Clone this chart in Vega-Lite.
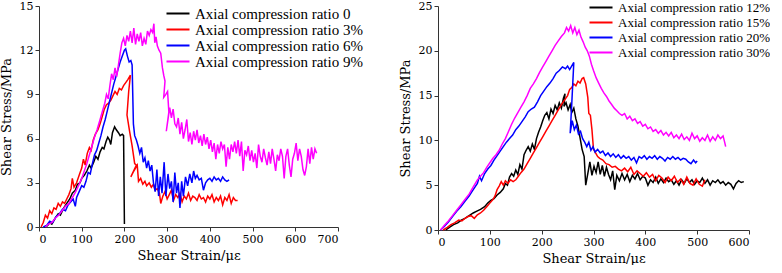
{
"$schema": "https://vega.github.io/schema/vega-lite/v6.json",
"padding": 0,
"background": "white",
"bounds": "flush",
"spacing": 100,
"config": {"view": {"stroke": null}},
"datasets": {
"left": [
{"s":"0","x":12,"y":0},{"s":"0","x":20,"y":0.1},{"s":"0","x":25,"y":0.3},{"s":"0","x":30,"y":0.2},{"s":"0","x":38,"y":0.6},{"s":"0","x":45,"y":0.9},{"s":"0","x":50,"y":0.8},{"s":"0","x":58,"y":1.3},{"s":"0","x":65,"y":1.6},{"s":"0","x":72,"y":1.9},{"s":"0","x":78,"y":2.3},{"s":"0","x":85,"y":2.5},{"s":"0","x":90,"y":2.9},{"s":"0","x":96,"y":3.0},{"s":"0","x":100,"y":3.3},{"s":"0","x":106,"y":3.5},{"s":"0","x":112,"y":3.8},{"s":"0","x":118,"y":4.2},{"s":"0","x":122,"y":4.0},{"s":"0","x":128,"y":4.4},{"s":"0","x":133,"y":4.8},{"s":"0","x":138,"y":4.6},{"s":"0","x":143,"y":5.1},{"s":"0","x":148,"y":5.4},{"s":"0","x":152,"y":5.3},{"s":"0","x":157,"y":5.8},{"s":"0","x":161,"y":6.1},{"s":"0","x":165,"y":5.9},{"s":"0","x":168,"y":5.6},{"s":"0","x":172,"y":6.4},{"s":"0","x":177,"y":6.8},{"s":"0","x":181,"y":6.6},{"s":"0","x":186,"y":6.4},{"s":"0","x":190,"y":6.2},{"s":"0","x":195,"y":6.3},{"s":"0","x":198,"y":6.2},{"s":"0","x":200,"y":0.2},
{"s":"3%","x":5,"y":0},{"s":"3%","x":10,"y":0.3},{"s":"3%","x":15,"y":0.8},{"s":"3%","x":20,"y":0.6},{"s":"3%","x":25,"y":1.1},{"s":"3%","x":30,"y":0.9},{"s":"3%","x":35,"y":1.3},{"s":"3%","x":40,"y":1.2},{"s":"3%","x":45,"y":1.6},{"s":"3%","x":50,"y":1.4},{"s":"3%","x":55,"y":1.7},{"s":"3%","x":60,"y":1.6},{"s":"3%","x":65,"y":1.9},{"s":"3%","x":70,"y":2.2},{"s":"3%","x":75,"y":2.6},{"s":"3%","x":78,"y":3.3},{"s":"3%","x":82,"y":2.7},{"s":"3%","x":88,"y":3.0},{"s":"3%","x":95,"y":3.6},{"s":"3%","x":100,"y":4.0},{"s":"3%","x":104,"y":4.6},{"s":"3%","x":108,"y":4.2},{"s":"3%","x":113,"y":5.0},{"s":"3%","x":118,"y":5.4},{"s":"3%","x":122,"y":5.2},{"s":"3%","x":127,"y":5.9},{"s":"3%","x":132,"y":6.3},{"s":"3%","x":138,"y":6.6},{"s":"3%","x":143,"y":7.0},{"s":"3%","x":148,"y":7.5},{"s":"3%","x":153,"y":8.0},{"s":"3%","x":158,"y":8.3},{"s":"3%","x":163,"y":8.4},{"s":"3%","x":168,"y":8.6},{"s":"3%","x":173,"y":8.9},{"s":"3%","x":178,"y":9.2},{"s":"3%","x":183,"y":9.0},{"s":"3%","x":188,"y":9.4},{"s":"3%","x":193,"y":9.3},{"s":"3%","x":198,"y":9.6},{"s":"3%","x":203,"y":9.8},{"s":"3%","x":208,"y":10.0},{"s":"3%","x":212,"y":10.2},{"s":"3%","x":214,"y":10.3},{"s":"3%","x":210,"y":9.2},{"s":"3%","x":206,"y":7.6},{"s":"3%","x":212,"y":6.5},{"s":"3%","x":218,"y":5.5},{"s":"3%","x":224,"y":4.3},{"s":"3%","x":228,"y":4.2},{"s":"3%","x":215,"y":3.4},{"s":"3%","x":222,"y":3.8},{"s":"3%","x":230,"y":4.2},{"s":"3%","x":233,"y":3.1},{"s":"3%","x":238,"y":3.3},{"s":"3%","x":243,"y":2.9},{"s":"3%","x":248,"y":3.1},{"s":"3%","x":252,"y":2.8},{"s":"3%","x":258,"y":3.0},{"s":"3%","x":263,"y":2.7},{"s":"3%","x":268,"y":2.9},{"s":"3%","x":272,"y":2.5},{"s":"3%","x":277,"y":2.6},{"s":"3%","x":282,"y":2.3},{"s":"3%","x":285,"y":1.6},{"s":"3%","x":290,"y":2.1},{"s":"3%","x":295,"y":2.4},{"s":"3%","x":300,"y":1.9},{"s":"3%","x":305,"y":2.2},{"s":"3%","x":310,"y":2.5},{"s":"3%","x":315,"y":1.8},{"s":"3%","x":320,"y":2.2},{"s":"3%","x":325,"y":2.0},{"s":"3%","x":330,"y":2.3},{"s":"3%","x":335,"y":1.7},{"s":"3%","x":340,"y":2.1},{"s":"3%","x":345,"y":1.9},{"s":"3%","x":350,"y":2.3},{"s":"3%","x":355,"y":1.8},{"s":"3%","x":360,"y":2.1},{"s":"3%","x":365,"y":2.0},{"s":"3%","x":370,"y":1.8},{"s":"3%","x":375,"y":2.2},{"s":"3%","x":380,"y":1.9},{"s":"3%","x":385,"y":2.0},{"s":"3%","x":390,"y":1.7},{"s":"3%","x":395,"y":2.1},{"s":"3%","x":400,"y":1.9},{"s":"3%","x":405,"y":2.2},{"s":"3%","x":410,"y":1.7},{"s":"3%","x":415,"y":2.0},{"s":"3%","x":420,"y":1.8},{"s":"3%","x":425,"y":2.1},{"s":"3%","x":430,"y":1.5},{"s":"3%","x":435,"y":2.0},{"s":"3%","x":440,"y":1.8},{"s":"3%","x":445,"y":2.2},{"s":"3%","x":450,"y":1.6},{"s":"3%","x":455,"y":2.0},{"s":"3%","x":460,"y":1.8},{"s":"3%","x":465,"y":1.8},
{"s":"6%","x":10,"y":0},{"s":"6%","x":18,"y":0.1},{"s":"6%","x":25,"y":0.4},{"s":"6%","x":32,"y":0.3},{"s":"6%","x":40,"y":0.7},{"s":"6%","x":48,"y":0.9},{"s":"6%","x":55,"y":1.2},{"s":"6%","x":62,"y":1.1},{"s":"6%","x":68,"y":1.5},{"s":"6%","x":74,"y":1.7},{"s":"6%","x":80,"y":1.9},{"s":"6%","x":85,"y":1.4},{"s":"6%","x":88,"y":2.0},{"s":"6%","x":94,"y":2.4},{"s":"6%","x":100,"y":2.8},{"s":"6%","x":105,"y":2.7},{"s":"6%","x":110,"y":3.1},{"s":"6%","x":115,"y":3.7},{"s":"6%","x":120,"y":3.6},{"s":"6%","x":125,"y":4.3},{"s":"6%","x":130,"y":4.9},{"s":"6%","x":135,"y":5.2},{"s":"6%","x":140,"y":5.7},{"s":"6%","x":145,"y":6.2},{"s":"6%","x":150,"y":6.8},{"s":"6%","x":155,"y":7.3},{"s":"6%","x":160,"y":7.9},{"s":"6%","x":165,"y":8.5},{"s":"6%","x":170,"y":9.1},{"s":"6%","x":175,"y":9.7},{"s":"6%","x":180,"y":10.2},{"s":"6%","x":185,"y":10.7},{"s":"6%","x":190,"y":11.2},{"s":"6%","x":195,"y":11.6},{"s":"6%","x":200,"y":12.0},{"s":"6%","x":203,"y":12.1},{"s":"6%","x":207,"y":11.6},{"s":"6%","x":211,"y":11.2},{"s":"6%","x":215,"y":11.3},{"s":"6%","x":218,"y":11.0},{"s":"6%","x":221,"y":7.0},{"s":"6%","x":224,"y":6.2},{"s":"6%","x":228,"y":5.9},{"s":"6%","x":232,"y":5.5},{"s":"6%","x":236,"y":5.0},{"s":"6%","x":240,"y":5.4},{"s":"6%","x":244,"y":4.4},{"s":"6%","x":248,"y":4.7},{"s":"6%","x":252,"y":4.0},{"s":"6%","x":256,"y":4.5},{"s":"6%","x":260,"y":3.8},{"s":"6%","x":264,"y":4.2},{"s":"6%","x":268,"y":3.0},{"s":"6%","x":272,"y":2.4},{"s":"6%","x":276,"y":3.9},{"s":"6%","x":280,"y":2.1},{"s":"6%","x":284,"y":3.4},{"s":"6%","x":288,"y":2.3},{"s":"6%","x":293,"y":4.4},{"s":"6%","x":297,"y":2.1},{"s":"6%","x":302,"y":3.6},{"s":"6%","x":306,"y":2.6},{"s":"6%","x":310,"y":3.1},{"s":"6%","x":314,"y":1.7},{"s":"6%","x":318,"y":3.7},{"s":"6%","x":322,"y":2.3},{"s":"6%","x":326,"y":3.0},{"s":"6%","x":330,"y":1.3},{"s":"6%","x":334,"y":3.1},{"s":"6%","x":338,"y":2.1},{"s":"6%","x":343,"y":3.4},{"s":"6%","x":348,"y":2.8},{"s":"6%","x":353,"y":3.6},{"s":"6%","x":358,"y":3.0},{"s":"6%","x":362,"y":3.8},{"s":"6%","x":366,"y":3.3},{"s":"6%","x":370,"y":3.5},{"s":"6%","x":375,"y":3.2},{"s":"6%","x":380,"y":3.3},{"s":"6%","x":385,"y":2.5},{"s":"6%","x":390,"y":3.0},{"s":"6%","x":395,"y":3.2},{"s":"6%","x":400,"y":3.3},{"s":"6%","x":405,"y":3.1},{"s":"6%","x":410,"y":3.4},{"s":"6%","x":415,"y":3.2},{"s":"6%","x":420,"y":3.3},{"s":"6%","x":425,"y":3.1},{"s":"6%","x":430,"y":3.4},{"s":"6%","x":435,"y":3.2},{"s":"6%","x":440,"y":3.1},{"s":"6%","x":445,"y":3.2},
{"s":"9%","x":15,"y":0},{"s":"9%","x":22,"y":0.2},{"s":"9%","x":30,"y":0.3},{"s":"9%","x":38,"y":0.6},{"s":"9%","x":46,"y":0.8},{"s":"9%","x":54,"y":1.1},{"s":"9%","x":62,"y":1.4},{"s":"9%","x":70,"y":1.6},{"s":"9%","x":78,"y":2.0},{"s":"9%","x":86,"y":2.4},{"s":"9%","x":94,"y":2.9},{"s":"9%","x":100,"y":3.3},{"s":"9%","x":106,"y":3.8},{"s":"9%","x":112,"y":4.3},{"s":"9%","x":118,"y":4.9},{"s":"9%","x":124,"y":5.5},{"s":"9%","x":130,"y":6.1},{"s":"9%","x":136,"y":6.6},{"s":"9%","x":142,"y":7.2},{"s":"9%","x":148,"y":7.8},{"s":"9%","x":154,"y":8.4},{"s":"9%","x":158,"y":9.0},{"s":"9%","x":162,"y":8.7},{"s":"9%","x":166,"y":9.6},{"s":"9%","x":170,"y":10.4},{"s":"9%","x":174,"y":10.0},{"s":"9%","x":178,"y":10.8},{"s":"9%","x":182,"y":10.2},{"s":"9%","x":186,"y":11.0},{"s":"9%","x":190,"y":11.8},{"s":"9%","x":194,"y":12.5},{"s":"9%","x":198,"y":12.8},{"s":"9%","x":202,"y":12.3},{"s":"9%","x":206,"y":13.0},{"s":"9%","x":210,"y":12.6},{"s":"9%","x":214,"y":13.3},{"s":"9%","x":218,"y":12.5},{"s":"9%","x":222,"y":13.5},{"s":"9%","x":226,"y":12.4},{"s":"9%","x":230,"y":13.1},{"s":"9%","x":234,"y":12.6},{"s":"9%","x":238,"y":13.2},{"s":"9%","x":242,"y":12.3},{"s":"9%","x":246,"y":12.8},{"s":"9%","x":250,"y":12.4},{"s":"9%","x":254,"y":13.3},{"s":"9%","x":258,"y":13.0},{"s":"9%","x":262,"y":13.4},{"s":"9%","x":266,"y":13.2},{"s":"9%","x":269,"y":13.8},{"s":"9%","x":271,"y":12.5},{"s":"9%","x":274,"y":12.9},{"s":"9%","x":277,"y":12.3},{"s":"9%","x":281,"y":12.0},{"s":"9%","x":285,"y":11.8},{"s":"9%","x":289,"y":10.8},{"s":"9%","x":292,"y":10.3},{"s":"9%","x":295,"y":9.9},{"s":"9%","x":292,"y":8.8},{"s":"9%","x":297,"y":9.0},{"s":"9%","x":301,"y":9.2},{"s":"9%","x":304,"y":7.8},{"s":"9%","x":298,"y":6.5},{"s":"9%","x":306,"y":8.1},{"s":"9%","x":310,"y":7.4},{"s":"9%","x":314,"y":8.0},{"s":"9%","x":318,"y":7.0},{"s":"9%","x":322,"y":6.8},{"s":"9%","x":326,"y":7.4},{"s":"9%","x":330,"y":6.3},{"s":"9%","x":334,"y":7.1},{"s":"9%","x":338,"y":6.0},{"s":"9%","x":342,"y":6.6},{"s":"9%","x":346,"y":7.3},{"s":"9%","x":350,"y":5.8},{"s":"9%","x":354,"y":6.4},{"s":"9%","x":358,"y":5.6},{"s":"9%","x":362,"y":6.5},{"s":"9%","x":366,"y":5.9},{"s":"9%","x":370,"y":6.6},{"s":"9%","x":374,"y":5.7},{"s":"9%","x":378,"y":6.2},{"s":"9%","x":382,"y":5.5},{"s":"9%","x":386,"y":6.3},{"s":"9%","x":390,"y":5.6},{"s":"9%","x":394,"y":6.1},{"s":"9%","x":398,"y":5.3},{"s":"9%","x":402,"y":5.9},{"s":"9%","x":406,"y":5.1},{"s":"9%","x":410,"y":5.7},{"s":"9%","x":414,"y":4.6},{"s":"9%","x":418,"y":5.6},{"s":"9%","x":422,"y":5.0},{"s":"9%","x":426,"y":5.8},{"s":"9%","x":430,"y":5.3},{"s":"9%","x":434,"y":5.6},{"s":"9%","x":438,"y":4.1},{"s":"9%","x":442,"y":5.4},{"s":"9%","x":446,"y":4.6},{"s":"9%","x":450,"y":5.6},{"s":"9%","x":454,"y":5.1},{"s":"9%","x":458,"y":5.8},{"s":"9%","x":462,"y":5.0},{"s":"9%","x":466,"y":5.9},{"s":"9%","x":470,"y":4.8},{"s":"9%","x":474,"y":5.8},{"s":"9%","x":478,"y":3.8},{"s":"9%","x":482,"y":5.2},{"s":"9%","x":486,"y":4.9},{"s":"9%","x":490,"y":5.5},{"s":"9%","x":494,"y":4.5},{"s":"9%","x":498,"y":5.2},{"s":"9%","x":502,"y":4.4},{"s":"9%","x":506,"y":5.0},{"s":"9%","x":510,"y":4.0},{"s":"9%","x":514,"y":5.6},{"s":"9%","x":518,"y":4.8},{"s":"9%","x":522,"y":4.4},{"s":"9%","x":526,"y":5.3},{"s":"9%","x":530,"y":4.7},{"s":"9%","x":534,"y":4.2},{"s":"9%","x":538,"y":5.1},{"s":"9%","x":542,"y":4.3},{"s":"9%","x":546,"y":5.3},{"s":"9%","x":550,"y":4.6},{"s":"9%","x":554,"y":3.8},{"s":"9%","x":558,"y":4.9},{"s":"9%","x":562,"y":4.5},{"s":"9%","x":566,"y":5.3},{"s":"9%","x":570,"y":4.8},{"s":"9%","x":574,"y":3.3},{"s":"9%","x":578,"y":4.8},{"s":"9%","x":582,"y":5.3},{"s":"9%","x":586,"y":4.2},{"s":"9%","x":590,"y":3.4},{"s":"9%","x":594,"y":4.6},{"s":"9%","x":598,"y":5.0},{"s":"9%","x":602,"y":5.7},{"s":"9%","x":606,"y":4.5},{"s":"9%","x":610,"y":5.3},{"s":"9%","x":614,"y":4.8},{"s":"9%","x":618,"y":3.9},{"s":"9%","x":622,"y":3.5},{"s":"9%","x":626,"y":4.1},{"s":"9%","x":630,"y":5.3},{"s":"9%","x":634,"y":4.3},{"s":"9%","x":638,"y":5.4},{"s":"9%","x":642,"y":4.6},{"s":"9%","x":646,"y":5.3},{"s":"9%","x":650,"y":5.0}
],
"right": [
{"s":"12%","x":15,"y":0},{"s":"12%","x":22,"y":0.3},{"s":"12%","x":30,"y":0.6},{"s":"12%","x":38,"y":0.8},{"s":"12%","x":45,"y":1.1},{"s":"12%","x":52,"y":1.3},{"s":"12%","x":60,"y":1.6},{"s":"12%","x":68,"y":1.9},{"s":"12%","x":75,"y":2.1},{"s":"12%","x":82,"y":2.3},{"s":"12%","x":90,"y":2.6},{"s":"12%","x":96,"y":3.0},{"s":"12%","x":102,"y":3.3},{"s":"12%","x":108,"y":3.5},{"s":"12%","x":114,"y":3.9},{"s":"12%","x":120,"y":4.2},{"s":"12%","x":126,"y":4.6},{"s":"12%","x":130,"y":5.2},{"s":"12%","x":134,"y":5.0},{"s":"12%","x":138,"y":5.9},{"s":"12%","x":142,"y":6.3},{"s":"12%","x":146,"y":6.0},{"s":"12%","x":150,"y":6.7},{"s":"12%","x":154,"y":6.2},{"s":"12%","x":158,"y":7.3},{"s":"12%","x":162,"y":6.8},{"s":"12%","x":166,"y":8.4},{"s":"12%","x":170,"y":8.9},{"s":"12%","x":174,"y":9.3},{"s":"12%","x":178,"y":8.8},{"s":"12%","x":182,"y":9.6},{"s":"12%","x":186,"y":9.0},{"s":"12%","x":190,"y":10.2},{"s":"12%","x":194,"y":10.9},{"s":"12%","x":198,"y":11.5},{"s":"12%","x":202,"y":12.2},{"s":"12%","x":206,"y":12.8},{"s":"12%","x":210,"y":13.1},{"s":"12%","x":214,"y":12.4},{"s":"12%","x":218,"y":13.5},{"s":"12%","x":222,"y":13.0},{"s":"12%","x":226,"y":13.9},{"s":"12%","x":230,"y":13.4},{"s":"12%","x":234,"y":14.2},{"s":"12%","x":238,"y":13.6},{"s":"12%","x":242,"y":14.7},{"s":"12%","x":245,"y":15.2},{"s":"12%","x":243,"y":13.8},{"s":"12%","x":247,"y":14.2},{"s":"12%","x":251,"y":13.4},{"s":"12%","x":255,"y":14.0},{"s":"12%","x":258,"y":13.1},{"s":"12%","x":262,"y":13.6},{"s":"12%","x":266,"y":12.4},{"s":"12%","x":270,"y":11.6},{"s":"12%","x":274,"y":10.3},{"s":"12%","x":278,"y":9.0},{"s":"12%","x":282,"y":8.2},{"s":"12%","x":285,"y":5.0},{"s":"12%","x":289,"y":6.3},{"s":"12%","x":293,"y":7.6},{"s":"12%","x":297,"y":6.1},{"s":"12%","x":301,"y":7.1},{"s":"12%","x":305,"y":6.4},{"s":"12%","x":309,"y":7.6},{"s":"12%","x":313,"y":6.2},{"s":"12%","x":317,"y":7.2},{"s":"12%","x":321,"y":6.0},{"s":"12%","x":325,"y":7.0},{"s":"12%","x":329,"y":6.2},{"s":"12%","x":333,"y":5.6},{"s":"12%","x":337,"y":6.6},{"s":"12%","x":341,"y":4.5},{"s":"12%","x":345,"y":6.1},{"s":"12%","x":350,"y":5.5},{"s":"12%","x":355,"y":6.3},{"s":"12%","x":360,"y":5.6},{"s":"12%","x":365,"y":6.2},{"s":"12%","x":370,"y":5.4},{"s":"12%","x":375,"y":6.1},{"s":"12%","x":380,"y":5.7},{"s":"12%","x":385,"y":6.3},{"s":"12%","x":390,"y":5.6},{"s":"12%","x":395,"y":6.0},{"s":"12%","x":400,"y":5.8},{"s":"12%","x":405,"y":5.0},{"s":"12%","x":410,"y":5.6},{"s":"12%","x":415,"y":5.3},{"s":"12%","x":420,"y":5.9},{"s":"12%","x":425,"y":5.2},{"s":"12%","x":430,"y":5.7},{"s":"12%","x":435,"y":5.3},{"s":"12%","x":440,"y":5.8},{"s":"12%","x":445,"y":5.4},{"s":"12%","x":450,"y":5.6},{"s":"12%","x":455,"y":5.1},{"s":"12%","x":460,"y":5.5},{"s":"12%","x":465,"y":5.0},{"s":"12%","x":470,"y":5.6},{"s":"12%","x":475,"y":5.2},{"s":"12%","x":480,"y":5.7},{"s":"12%","x":485,"y":5.3},{"s":"12%","x":490,"y":5.6},{"s":"12%","x":495,"y":5.1},{"s":"12%","x":500,"y":5.5},{"s":"12%","x":505,"y":5.3},{"s":"12%","x":510,"y":5.8},{"s":"12%","x":515,"y":5.2},{"s":"12%","x":520,"y":5.6},{"s":"12%","x":525,"y":5.0},{"s":"12%","x":530,"y":5.5},{"s":"12%","x":535,"y":5.3},{"s":"12%","x":540,"y":5.6},{"s":"12%","x":545,"y":5.2},{"s":"12%","x":550,"y":5.4},{"s":"12%","x":555,"y":5.0},{"s":"12%","x":560,"y":5.3},{"s":"12%","x":565,"y":5.1},{"s":"12%","x":570,"y":4.6},{"s":"12%","x":575,"y":5.2},{"s":"12%","x":580,"y":5.5},{"s":"12%","x":585,"y":5.3},{"s":"12%","x":590,"y":5.4},
{"s":"15%","x":10,"y":0},{"s":"15%","x":18,"y":0.3},{"s":"15%","x":25,"y":0.6},{"s":"15%","x":32,"y":0.8},{"s":"15%","x":40,"y":1.1},{"s":"15%","x":46,"y":1.0},{"s":"15%","x":52,"y":1.3},{"s":"15%","x":58,"y":1.5},{"s":"15%","x":64,"y":1.6},{"s":"15%","x":70,"y":1.3},{"s":"15%","x":76,"y":1.7},{"s":"15%","x":82,"y":1.9},{"s":"15%","x":88,"y":2.2},{"s":"15%","x":94,"y":2.6},{"s":"15%","x":100,"y":3.0},{"s":"15%","x":106,"y":3.4},{"s":"15%","x":110,"y":3.8},{"s":"15%","x":114,"y":4.5},{"s":"15%","x":118,"y":4.9},{"s":"15%","x":122,"y":5.4},{"s":"15%","x":126,"y":5.0},{"s":"15%","x":130,"y":5.5},{"s":"15%","x":135,"y":5.2},{"s":"15%","x":140,"y":5.6},{"s":"15%","x":145,"y":5.4},{"s":"15%","x":150,"y":5.6},{"s":"15%","x":155,"y":6.0},{"s":"15%","x":160,"y":6.4},{"s":"15%","x":166,"y":6.8},{"s":"15%","x":172,"y":7.4},{"s":"15%","x":178,"y":8.0},{"s":"15%","x":184,"y":8.6},{"s":"15%","x":190,"y":9.2},{"s":"15%","x":196,"y":9.8},{"s":"15%","x":202,"y":10.4},{"s":"15%","x":208,"y":11.0},{"s":"15%","x":214,"y":11.6},{"s":"15%","x":220,"y":12.2},{"s":"15%","x":226,"y":12.8},{"s":"15%","x":232,"y":13.4},{"s":"15%","x":238,"y":14.0},{"s":"15%","x":244,"y":14.5},{"s":"15%","x":250,"y":15.0},{"s":"15%","x":254,"y":15.7},{"s":"15%","x":258,"y":15.9},{"s":"15%","x":262,"y":16.3},{"s":"15%","x":266,"y":16.1},{"s":"15%","x":270,"y":16.6},{"s":"15%","x":274,"y":16.4},{"s":"15%","x":278,"y":16.9},{"s":"15%","x":281,"y":17.0},{"s":"15%","x":285,"y":16.3},{"s":"15%","x":289,"y":14.8},{"s":"15%","x":291,"y":13.0},{"s":"15%","x":294,"y":12.8},{"s":"15%","x":297,"y":11.2},{"s":"15%","x":300,"y":9.0},{"s":"15%","x":304,"y":8.6},{"s":"15%","x":308,"y":8.2},{"s":"15%","x":312,"y":8.0},{"s":"15%","x":318,"y":7.8},{"s":"15%","x":324,"y":7.4},{"s":"15%","x":330,"y":7.3},{"s":"15%","x":336,"y":7.0},{"s":"15%","x":342,"y":7.1},{"s":"15%","x":348,"y":6.8},{"s":"15%","x":354,"y":6.6},{"s":"15%","x":360,"y":6.9},{"s":"15%","x":366,"y":6.5},{"s":"15%","x":372,"y":7.0},{"s":"15%","x":378,"y":6.2},{"s":"15%","x":384,"y":6.6},{"s":"15%","x":390,"y":6.3},{"s":"15%","x":396,"y":6.0},{"s":"15%","x":402,"y":6.4},{"s":"15%","x":408,"y":5.9},{"s":"15%","x":414,"y":6.2},{"s":"15%","x":420,"y":5.5},{"s":"15%","x":426,"y":6.1},{"s":"15%","x":432,"y":5.8},{"s":"15%","x":438,"y":5.3},{"s":"15%","x":444,"y":5.9},{"s":"15%","x":450,"y":5.5},{"s":"15%","x":456,"y":6.0},{"s":"15%","x":462,"y":5.3},{"s":"15%","x":468,"y":5.7},{"s":"15%","x":474,"y":5.1},{"s":"15%","x":480,"y":5.9},{"s":"15%","x":486,"y":5.2},{"s":"15%","x":492,"y":5.0},{"s":"15%","x":498,"y":5.7},{"s":"15%","x":504,"y":5.1},{"s":"15%","x":510,"y":4.9},{"s":"15%","x":515,"y":5.6},
{"s":"20%","x":5,"y":0},{"s":"20%","x":12,"y":0.4},{"s":"20%","x":20,"y":0.9},{"s":"20%","x":28,"y":1.5},{"s":"20%","x":36,"y":2.1},{"s":"20%","x":44,"y":2.6},{"s":"20%","x":52,"y":3.2},{"s":"20%","x":60,"y":3.8},{"s":"20%","x":68,"y":4.5},{"s":"20%","x":76,"y":5.2},{"s":"20%","x":80,"y":6.0},{"s":"20%","x":84,"y":5.5},{"s":"20%","x":90,"y":6.3},{"s":"20%","x":96,"y":6.8},{"s":"20%","x":102,"y":7.2},{"s":"20%","x":108,"y":7.8},{"s":"20%","x":114,"y":8.3},{"s":"20%","x":120,"y":8.8},{"s":"20%","x":126,"y":9.3},{"s":"20%","x":132,"y":9.8},{"s":"20%","x":138,"y":10.2},{"s":"20%","x":144,"y":10.6},{"s":"20%","x":150,"y":11.2},{"s":"20%","x":156,"y":11.6},{"s":"20%","x":162,"y":12.1},{"s":"20%","x":168,"y":12.6},{"s":"20%","x":174,"y":13.2},{"s":"20%","x":180,"y":13.5},{"s":"20%","x":186,"y":13.7},{"s":"20%","x":192,"y":14.3},{"s":"20%","x":198,"y":15.0},{"s":"20%","x":204,"y":15.5},{"s":"20%","x":210,"y":16.0},{"s":"20%","x":216,"y":16.4},{"s":"20%","x":222,"y":16.9},{"s":"20%","x":228,"y":17.5},{"s":"20%","x":234,"y":17.8},{"s":"20%","x":240,"y":18.2},{"s":"20%","x":246,"y":18.0},{"s":"20%","x":250,"y":18.3},{"s":"20%","x":254,"y":17.9},{"s":"20%","x":262,"y":18.7},{"s":"20%","x":258,"y":14.0},{"s":"20%","x":255,"y":10.8},{"s":"20%","x":259,"y":12.2},{"s":"20%","x":263,"y":11.2},{"s":"20%","x":267,"y":11.7},{"s":"20%","x":271,"y":10.7},{"s":"20%","x":275,"y":11.0},{"s":"20%","x":279,"y":10.2},{"s":"20%","x":283,"y":9.8},{"s":"20%","x":287,"y":9.3},{"s":"20%","x":291,"y":9.8},{"s":"20%","x":295,"y":8.9},{"s":"20%","x":299,"y":9.3},{"s":"20%","x":303,"y":8.7},{"s":"20%","x":308,"y":9.0},{"s":"20%","x":313,"y":8.6},{"s":"20%","x":318,"y":8.8},{"s":"20%","x":323,"y":8.3},{"s":"20%","x":328,"y":8.6},{"s":"20%","x":333,"y":8.2},{"s":"20%","x":338,"y":8.5},{"s":"20%","x":343,"y":8.1},{"s":"20%","x":348,"y":8.4},{"s":"20%","x":353,"y":8.0},{"s":"20%","x":358,"y":8.3},{"s":"20%","x":363,"y":8.0},{"s":"20%","x":368,"y":8.2},{"s":"20%","x":373,"y":7.8},{"s":"20%","x":378,"y":8.1},{"s":"20%","x":383,"y":7.5},{"s":"20%","x":388,"y":8.2},{"s":"20%","x":393,"y":8.0},{"s":"20%","x":398,"y":8.3},{"s":"20%","x":403,"y":7.9},{"s":"20%","x":408,"y":8.2},{"s":"20%","x":413,"y":8.0},{"s":"20%","x":418,"y":8.3},{"s":"20%","x":423,"y":7.9},{"s":"20%","x":428,"y":8.2},{"s":"20%","x":433,"y":8.0},{"s":"20%","x":438,"y":7.7},{"s":"20%","x":443,"y":8.1},{"s":"20%","x":448,"y":7.9},{"s":"20%","x":453,"y":8.2},{"s":"20%","x":458,"y":7.9},{"s":"20%","x":463,"y":8.1},{"s":"20%","x":468,"y":7.8},{"s":"20%","x":473,"y":8.0},{"s":"20%","x":478,"y":7.9},{"s":"20%","x":483,"y":7.6},{"s":"20%","x":488,"y":7.4},{"s":"20%","x":493,"y":7.8},{"s":"20%","x":497,"y":7.5},{"s":"20%","x":500,"y":7.7},
{"s":"30%","x":5,"y":0},{"s":"30%","x":12,"y":0.5},{"s":"30%","x":20,"y":1.0},{"s":"30%","x":28,"y":1.6},{"s":"30%","x":36,"y":2.2},{"s":"30%","x":44,"y":2.8},{"s":"30%","x":52,"y":3.4},{"s":"30%","x":60,"y":4.0},{"s":"30%","x":68,"y":4.8},{"s":"30%","x":76,"y":5.6},{"s":"30%","x":82,"y":6.0},{"s":"30%","x":88,"y":6.4},{"s":"30%","x":94,"y":7.0},{"s":"30%","x":100,"y":7.5},{"s":"30%","x":106,"y":8.0},{"s":"30%","x":112,"y":8.4},{"s":"30%","x":118,"y":8.9},{"s":"30%","x":124,"y":9.6},{"s":"30%","x":130,"y":10.2},{"s":"30%","x":136,"y":11.0},{"s":"30%","x":142,"y":11.8},{"s":"30%","x":148,"y":12.5},{"s":"30%","x":154,"y":13.1},{"s":"30%","x":160,"y":13.7},{"s":"30%","x":166,"y":14.3},{"s":"30%","x":172,"y":15.0},{"s":"30%","x":178,"y":15.8},{"s":"30%","x":184,"y":16.3},{"s":"30%","x":190,"y":16.9},{"s":"30%","x":196,"y":17.6},{"s":"30%","x":202,"y":18.2},{"s":"30%","x":208,"y":18.8},{"s":"30%","x":214,"y":19.4},{"s":"30%","x":220,"y":20.0},{"s":"30%","x":226,"y":20.6},{"s":"30%","x":232,"y":21.1},{"s":"30%","x":238,"y":21.6},{"s":"30%","x":244,"y":22.0},{"s":"30%","x":248,"y":22.6},{"s":"30%","x":252,"y":22.2},{"s":"30%","x":256,"y":22.8},{"s":"30%","x":260,"y":22.0},{"s":"30%","x":264,"y":22.6},{"s":"30%","x":268,"y":21.8},{"s":"30%","x":272,"y":22.3},{"s":"30%","x":276,"y":21.5},{"s":"30%","x":280,"y":21.0},{"s":"30%","x":284,"y":20.4},{"s":"30%","x":288,"y":20.0},{"s":"30%","x":292,"y":19.4},{"s":"30%","x":296,"y":18.5},{"s":"30%","x":300,"y":17.8},{"s":"30%","x":305,"y":17.0},{"s":"30%","x":310,"y":16.4},{"s":"30%","x":315,"y":15.8},{"s":"30%","x":320,"y":15.3},{"s":"30%","x":325,"y":14.9},{"s":"30%","x":330,"y":14.4},{"s":"30%","x":335,"y":14.0},{"s":"30%","x":340,"y":13.6},{"s":"30%","x":345,"y":13.3},{"s":"30%","x":350,"y":13.0},{"s":"30%","x":355,"y":12.8},{"s":"30%","x":360,"y":13.0},{"s":"30%","x":365,"y":12.4},{"s":"30%","x":370,"y":12.7},{"s":"30%","x":375,"y":12.2},{"s":"30%","x":380,"y":12.4},{"s":"30%","x":385,"y":11.9},{"s":"30%","x":390,"y":12.1},{"s":"30%","x":395,"y":11.6},{"s":"30%","x":400,"y":11.8},{"s":"30%","x":405,"y":11.3},{"s":"30%","x":410,"y":11.5},{"s":"30%","x":415,"y":11.0},{"s":"30%","x":420,"y":11.2},{"s":"30%","x":425,"y":10.8},{"s":"30%","x":430,"y":11.1},{"s":"30%","x":435,"y":10.6},{"s":"30%","x":440,"y":10.9},{"s":"30%","x":445,"y":10.5},{"s":"30%","x":450,"y":10.9},{"s":"30%","x":455,"y":10.3},{"s":"30%","x":460,"y":10.6},{"s":"30%","x":465,"y":10.2},{"s":"30%","x":470,"y":10.7},{"s":"30%","x":475,"y":10.1},{"s":"30%","x":480,"y":10.4},{"s":"30%","x":485,"y":10.0},{"s":"30%","x":490,"y":10.8},{"s":"30%","x":495,"y":10.2},{"s":"30%","x":500,"y":10.5},{"s":"30%","x":505,"y":9.9},{"s":"30%","x":510,"y":10.3},{"s":"30%","x":515,"y":10.0},{"s":"30%","x":520,"y":10.6},{"s":"30%","x":525,"y":9.9},{"s":"30%","x":530,"y":10.4},{"s":"30%","x":535,"y":10.0},{"s":"30%","x":540,"y":10.6},{"s":"30%","x":545,"y":10.2},{"s":"30%","x":550,"y":10.5},{"s":"30%","x":553,"y":9.8},{"s":"30%","x":555,"y":9.3}
]
},
"hconcat": [
 {
  "width": 299, "height": 221,
  "data": {"name": "left"},
  "mark": {"type": "line", "strokeWidth": 1.5},
  "encoding": {
   "x": {"field": "x", "type": "quantitative", "title": "Shear Strain/με", "scale": {"domain": [0, 700], "nice": false}, "axis": {"values": [0,100,200,300,400,500,600,700], "grid": false, "domainColor": "#333", "tickColor": "#333", "labelColor": "black", "titleColor": "black", "labelFont": "DejaVu Serif", "titleFont": "DejaVu Serif", "labelFontSize": 11, "titleFontSize": 13, "titleFontWeight": "normal", "tickSize": 4, "labelPadding": 2, "titlePadding": 5, "labelAngle": 0}},
   "y": {"field": "y", "type": "quantitative", "title": "Shear Stress/MPa", "scale": {"domain": [0, 15], "nice": false}, "axis": {"values": [0,3,6,9,12,15], "grid": false, "domainColor": "#333", "tickColor": "#333", "labelColor": "black", "titleColor": "black", "labelFont": "DejaVu Serif", "titleFont": "DejaVu Serif", "labelFontSize": 11, "titleFontSize": 13, "titleFontWeight": "normal", "tickSize": 4, "labelPadding": 2, "titlePadding": 6}},
   "color": {"field": "s", "type": "nominal", "scale": {"domain": ["0","3%","6%","9%"], "range": ["#000000","#ff0000","#0000ff","#ff00ff"]}, "legend": {"orient": "none", "legendX": 126, "legendY": 0, "title": null, "symbolType": "stroke", "symbolSize": 530, "symbolStrokeWidth": 2, "clipHeight": 15, "labelFont": "Times New Roman", "labelFontSize": 15, "labelColor": "black", "labelOffset": 4, "rowPadding": 0, "padding": 0, "labelLimit": 300, "labelExpr": "'Axial compression ratio ' + datum.label"}},
   "order": {"value": null}
  }
 },
 {
  "width": 311, "height": 224,
  "data": {"name": "right"},
  "mark": {"type": "line", "strokeWidth": 1.5},
  "encoding": {
   "x": {"field": "x", "type": "quantitative", "title": "Shear Strain/με", "scale": {"domain": [0, 600], "nice": false}, "axis": {"values": [0,100,200,300,400,500,600], "grid": false, "domainColor": "#333", "tickColor": "#333", "labelColor": "black", "titleColor": "black", "labelFont": "DejaVu Serif", "titleFont": "DejaVu Serif", "labelFontSize": 11, "titleFontSize": 13, "titleFontWeight": "normal", "tickSize": 4, "labelPadding": 2, "titlePadding": 5, "labelAngle": 0}},
   "y": {"field": "y", "type": "quantitative", "title": "Shear Stress/MPa", "scale": {"domain": [0, 25], "nice": false}, "axis": {"values": [0,5,10,15,20,25], "grid": false, "domainColor": "#333", "tickColor": "#333", "labelColor": "black", "titleColor": "black", "labelFont": "DejaVu Serif", "titleFont": "DejaVu Serif", "labelFontSize": 11, "titleFontSize": 13, "titleFontWeight": "normal", "tickSize": 4, "labelPadding": 2, "titlePadding": 6}},
   "color": {"field": "s", "type": "nominal", "scale": {"domain": ["12%","15%","20%","30%"], "range": ["#000000","#ff0000","#0000ff","#ff00ff"]}, "legend": {"orient": "none", "legendX": 150, "legendY": -6, "title": null, "symbolType": "stroke", "symbolSize": 530, "symbolStrokeWidth": 2, "clipHeight": 15, "labelFont": "Times New Roman", "labelFontSize": 13, "labelColor": "black", "labelOffset": 4, "rowPadding": 0, "padding": 0, "labelLimit": 300, "labelExpr": "'Axial compression ratio ' + datum.label"}},
   "order": {"value": null}
  }
 }
],
"resolve": {"scale": {"color": "independent", "x": "independent", "y": "independent"}, "legend": {"color": "independent"}}
}
